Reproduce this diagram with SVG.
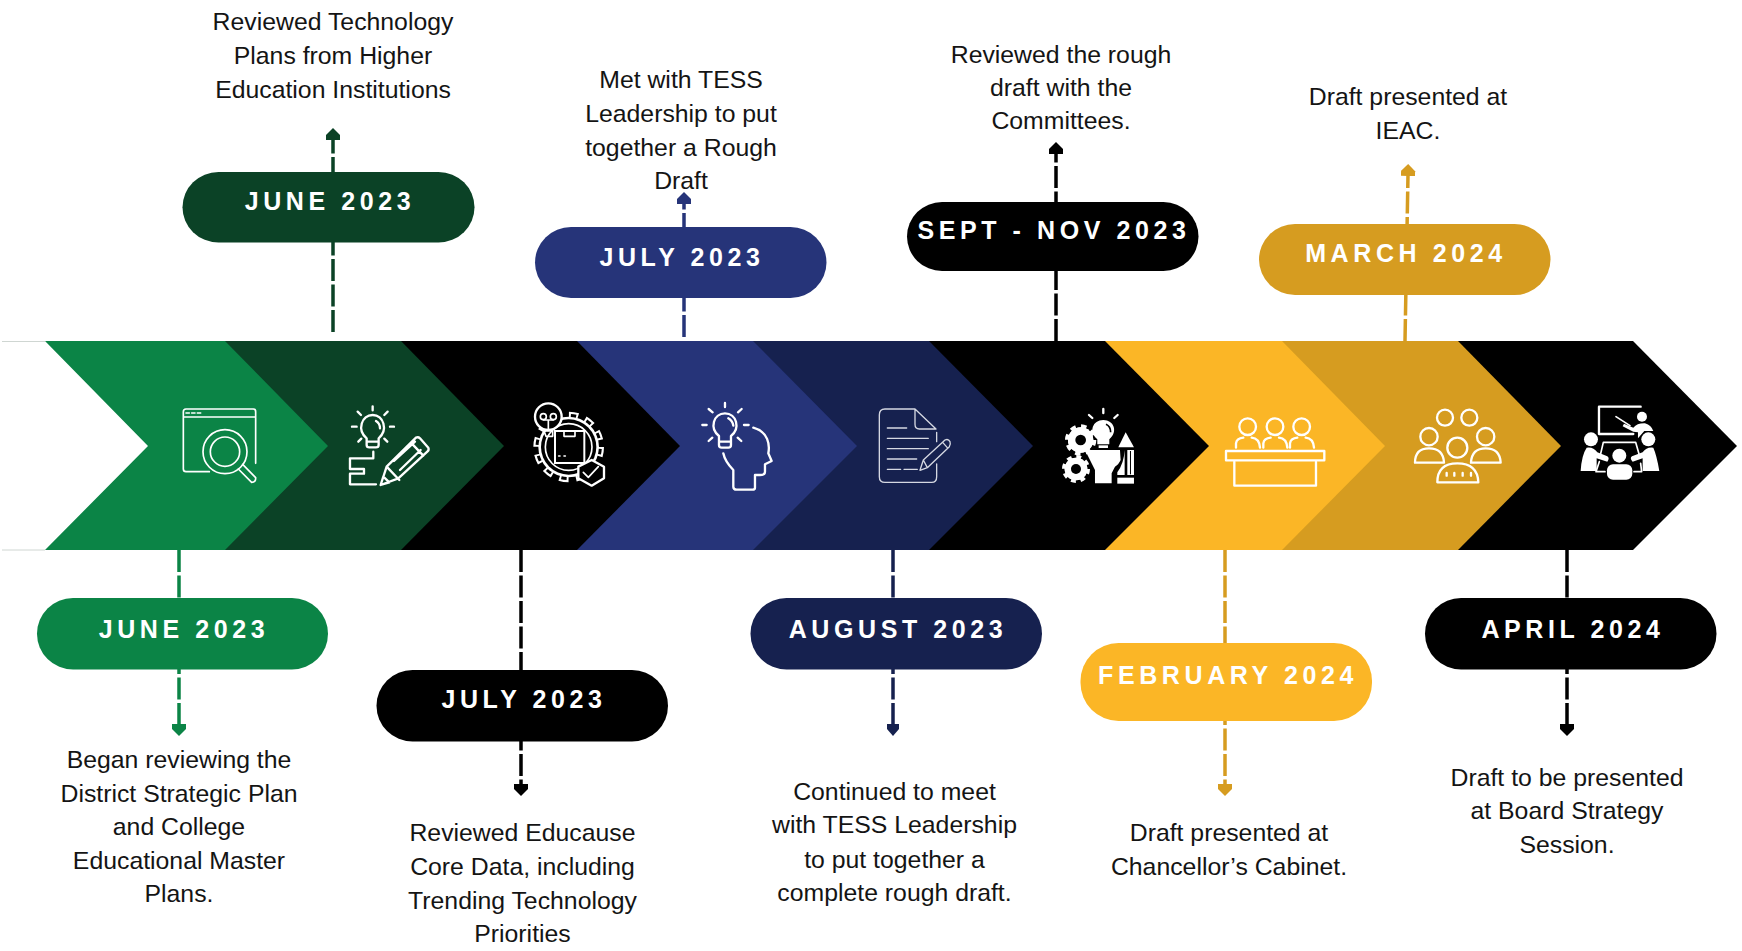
<svg xmlns="http://www.w3.org/2000/svg" width="1742" height="951" viewBox="0 0 1742 951">
<style>
.b{font:24.8px "Liberation Sans",Arial,sans-serif;fill:#141414;text-anchor:middle}
.p{font:bold 25px "Liberation Sans",Arial,sans-serif;fill:#fff;text-anchor:middle;letter-spacing:4.6px}
.c{fill:none;stroke-width:3.5;stroke-dasharray:22 3.5}
.i{fill:none;stroke:#fff;stroke-width:7;stroke-linecap:round;stroke-linejoin:round}
.t{fill:none;stroke:#fff;stroke-width:5;stroke-linecap:round;stroke-linejoin:round}
.d{fill:none;stroke:#d5d8e2;stroke-width:4;stroke-linecap:round;stroke-linejoin:round}
.s{fill:#fff;stroke:none}
.k{fill:#000;stroke:none}
.g1{fill:#0b8446}.g2{fill:#0b4226}.u1{fill:#263479}.u2{fill:#16214f}.y1{fill:#fbb626}.y2{fill:#d69c20}.n{fill:#000}
</style>
<defs>
<marker id="a-g1" markerUnits="userSpaceOnUse" markerWidth="14" markerHeight="16" refX="1" refY="8" orient="auto"><path d="M0 1L5 1L12 8L5 15L0 15Z" fill="#0b8446"/></marker>
<marker id="a-g2" markerUnits="userSpaceOnUse" markerWidth="14" markerHeight="16" refX="1" refY="8" orient="auto"><path d="M0 1L5 1L12 8L5 15L0 15Z" fill="#0b4226"/></marker>
<marker id="a-u1" markerUnits="userSpaceOnUse" markerWidth="14" markerHeight="16" refX="1" refY="8" orient="auto"><path d="M0 1L5 1L12 8L5 15L0 15Z" fill="#263479"/></marker>
<marker id="a-u2" markerUnits="userSpaceOnUse" markerWidth="14" markerHeight="16" refX="1" refY="8" orient="auto"><path d="M0 2L5 2L12 8L5 14L0 14Z" fill="#16214f"/></marker>
<marker id="a-y2" markerUnits="userSpaceOnUse" markerWidth="14" markerHeight="16" refX="1" refY="8" orient="auto"><path d="M0 1L5 1L12 8L5 15L0 15Z" fill="#d69c20"/></marker>
<marker id="a-n" markerUnits="userSpaceOnUse" markerWidth="14" markerHeight="16" refX="1" refY="8" orient="auto"><path d="M0 1L5 1L12 8L5 15L0 15Z" fill="#000"/></marker>
</defs>
<rect width="1742" height="951" fill="#fff"/>
<g id="connectors">
<path class="c" stroke="#0b8446" marker-end="url(#a-g1)" d="M179 550V725"/>
<path class="c" stroke="#0b4226" marker-end="url(#a-g2)" d="M333 332V139"/>
<path class="c" stroke="#000" marker-end="url(#a-n)" d="M521 550V785"/>
<path class="c" stroke="#263479" marker-end="url(#a-u1)" d="M684 337V203"/>
<path class="c" stroke="#16214f" marker-end="url(#a-u2)" d="M893 550V725"/>
<path class="c" stroke="#000" marker-end="url(#a-n)" d="M1056 341V153"/>
<path class="c" stroke="#d69c20" marker-end="url(#a-y2)" d="M1405 341L1408 175"/>
<path class="c" stroke="#d69c20" marker-end="url(#a-y2)" d="M1225 550V785"/>
<path class="c" stroke="#000" marker-end="url(#a-n)" d="M1567 550V725"/>
</g>
<path id="ribbon-edge" d="M2 341.500H45M2 550H45" stroke="#cfd6d2" stroke-width="1" fill="none"/>

<g id="node-apr-2024">
<polygon class="n" points="1458,341 1633,341 1737,446 1633,550 1458,550"/>
<g transform="translate(1400,395) scale(.3333)">
<path class="i" d="M722 35H597V117H700"/>
<path class="t" d="M648 65L690 92"/>
<circle class="s" cx="726" cy="65" r="15"/>
<path class="s" d="M672 86L700 98Q712 84 735 85Q755 92 760 108H733L714 130V112L700 110L668 94Z"/>
<circle class="s" cx="573" cy="133" r="21"/>
<path class="s" d="M560 158Q545 180 542 228H590V190L622 200Q630 190 622 184L592 172Q580 155 560 158Z"/>
<circle class="s" cx="745" cy="133" r="21"/>
<path class="s" d="M760 158Q770 180 778 228H728V190L698 200Q688 190 696 184L728 172Q740 155 760 158Z"/>
<circle class="s" cx="658" cy="182" r="21"/>
<rect class="s" x="621" y="208" width="76" height="46" rx="18"/>
<path class="t" d="M600 185L610 142H707L718 180M598 200L588 230H615M722 205L725 230H702"/>
</g>
<rect class="n" x="1425" y="598" width="291.500" height="71.500" rx="36"/>
<text class="p" x="1573" y="637.500">APRIL 2024</text>
<text class="b" x="1567" y="785.500">Draft to be presented</text>
<text class="b" x="1567" y="819">at Board Strategy</text>
<text class="b" x="1567" y="853">Session.</text>
</g>

<g id="node-mar-2024">
<polygon class="y2" points="1282,341 1458,341 1561,446 1458,550 1282,550"/>
<g transform="translate(1400,395) scale(.3333)" class="i">
<circle cx="135" cy="68" r="24"/><circle cx="208" cy="68" r="24"/><circle cx="87" cy="125" r="26"/><circle cx="257" cy="125" r="26"/><circle cx="172" cy="158" r="30"/>
<path d="M45 203Q45 160 87 160Q130 160 132 203ZM213 203Q215 160 257 160Q300 160 302 203ZM112 262Q112 205 172 205Q233 205 235 262ZM140 234V242M163 234V242M188 234V242M213 234V242"/>
</g>
<rect class="y2" x="1259" y="224" width="291.500" height="71" rx="36"/>
<text class="p" x="1406" y="262">MARCH 2024</text>
<text class="b" x="1408" y="104.500">Draft presented at</text>
<text class="b" x="1408" y="138.500">IEAC.</text>
</g>

<g id="node-feb-2024">
<polygon class="y1" points="1105,341 1282,341 1385,446 1282,550 1105,550"/>
<g transform="translate(1220,395) scale(.3333)" class="i">
<circle cx="83" cy="95" r="25"/><circle cx="165" cy="95" r="25"/><circle cx="245" cy="95" r="25"/>
<path d="M48 158V145Q50 130 70 128M95 128Q118 130 120 158M130 158V145Q132 130 152 128M177 128Q200 130 202 158M210 158V145Q212 130 232 128M257 128Q280 130 282 158"/>
<rect x="18" y="168" width="295" height="28"/>
<path d="M43 200V272H288V200"/>
</g>
<rect class="y1" x="1080.500" y="643" width="291.500" height="78" rx="38"/>
<text class="p" x="1228" y="684">FEBRUARY 2024</text>
<text class="b" x="1229" y="841">Draft presented at</text>
<text class="b" x="1229" y="875">Chancellor’s Cabinet.</text>
</g>

<g id="node-sept-nov-2023">
<polygon class="n" points="929,341 1105,341 1209,446 1105,550 929,550"/>
<g transform="translate(870,395) scale(.3333)">
<circle cx="632" cy="135" r="38" fill="#fff" stroke="#fff" stroke-width="18" stroke-dasharray="15 14.850"/>
<circle class="s" cx="632" cy="135" r="38"/><circle class="k" cx="632" cy="135" r="16"/>
<circle cx="618" cy="222" r="34" fill="#fff" stroke="#fff" stroke-width="16" stroke-dasharray="13.500 13.200"/>
<circle class="s" cx="618" cy="222" r="34"/><circle class="k" cx="618" cy="222" r="15"/>
<path class="s" d="M645 165H750L752 195Q745 210 735 215L725 235V265H675V225Q665 205 645 165Z" stroke="#000"/>
<path class="s" d="M682 133C655 110 668 75 700 75C732 75 745 110 718 133V148H682Z"/>
<rect class="s" x="686" y="151" width="28" height="8"/>
<path d="M708 88Q722 94 722 112" fill="none" stroke="#000" stroke-width="5"/>
<path class="i" d="M700 42V54M657 60L667 69M743 60L733 69"/>
<path class="s" d="M767 112L792 157H745Z"/>
<rect class="s" x="772" y="165" width="20" height="75"/>
<path class="s" d="M764 165V240H742V232Q762 205 764 165Z"/>
<rect class="k" x="780" y="168" width="3" height="70"/>
<rect class="s" x="742" y="248" width="50" height="18"/>
</g>
<rect class="n" x="907" y="202" width="291.500" height="69" rx="35"/>
<text class="p" x="1054" y="239">SEPT - NOV 2023</text>
<text class="b" x="1061" y="62.500">Reviewed the rough</text>
<text class="b" x="1061" y="95.500">draft with the</text>
<text class="b" x="1061" y="128.500">Committees.</text>
</g>

<g id="node-aug-2023">
<polygon class="u2" points="753,341 929,341 1033,446 929,550 753,550"/>
<g transform="translate(870,395) scale(.3333)" class="d">
<path d="M135 42H45Q28 42 28 60V245Q28 262 45 262H185Q200 262 200 245V207M200 112V140M135 42L198 102H148Q135 102 135 88ZM52 99H110M52 130H175M52 161H175M52 192H140M52 223H92M102 223H142"/>
<path d="M150 226L160 195L225 135Q235 130 240 140Q243 148 238 155L172 218ZM160 195L172 218M218 142L232 158"/>
</g>
<rect class="u2" x="750.500" y="598" width="291.500" height="71.500" rx="36"/>
<text class="p" x="898" y="637.500">AUGUST 2023</text>
<text class="b" x="894.500" y="799.500">Continued to meet</text>
<text class="b" x="894.500" y="833">with TESS Leadership</text>
<text class="b" x="894.500" y="867.500">to put together a</text>
<text class="b" x="894.500" y="901">complete rough draft.</text>
</g>

<g id="node-jul-2023-top">
<polygon class="u1" points="577,341 753,341 857,446 753,550 577,550"/>
<g transform="translate(520,395) scale(.3333)" class="i">
<path d="M597 123C568 100 580 55 615 55C650 55 662 100 633 123V150Q633 158 625 158H605Q597 158 597 150ZM597 140H633M625 70Q638 78 640 92M615 24V36M566 42L578 52M665 42L654 52M547 90H560M672 90H686M566 138L577 128M664 138L653 128"/>
<path d="M700 98C745 110 750 150 745 175L755 198L735 208V230Q735 240 720 240H705V278Q705 284 698 284H650Q640 284 640 275V225Q615 200 610 175"/>
</g>
<rect class="u1" x="535" y="227" width="291.500" height="71" rx="36"/>
<text class="p" x="682" y="265.500">JULY 2023</text>
<text class="b" x="681" y="88">Met with TESS</text>
<text class="b" x="681" y="121.500">Leadership to put</text>
<text class="b" x="681" y="155.500">together a Rough</text>
<text class="b" x="681" y="189">Draft</text>
</g>

<g id="node-jul-2023-bottom">
<polygon class="n" points="401,341 577,341 680,446 577,550 401,550"/>
<g transform="translate(520,395) scale(.3333)">
<circle cx="146" cy="156" r="96" fill="none" stroke="#fff" stroke-width="20" stroke-dasharray="28 22.270"/>
<circle class="s" cx="146" cy="156" r="91"/>
<circle cx="146" cy="156" r="95" fill="none" stroke="#000" stroke-width="9" stroke-dasharray="16 33.740" stroke-dashoffset="-6"/>
<circle class="k" cx="146" cy="156" r="83"/>
<circle class="t" cx="146" cy="156" r="70" stroke-width="6"/>
<rect x="105" y="108" width="88" height="96" fill="#000" stroke="#fff" stroke-width="6"/>
<path class="t" d="M132 108V124H165V108M116 183H120M132 183H136"/>
<circle cx="85" cy="65" r="40" fill="#000" stroke="#fff" stroke-width="7"/>
<path class="t" d="M85 105V75M70 75H100"/>
<circle class="t" cx="70" cy="65" r="9"/><circle class="t" cx="100" cy="65" r="9"/>
<path class="t" d="M72 108H98V124H78Z" fill="#000"/>
<polygon points="215,195 252,215 252,250 215,272 175,250 175,215" fill="#000" stroke="#fff" stroke-width="7" stroke-linejoin="round"/>
<path class="t" d="M190 232L205 247L235 215" stroke-width="7"/>
</g>
<rect class="n" x="376.500" y="670" width="291.500" height="71.500" rx="36"/>
<text class="p" x="524" y="708">JULY 2023</text>
<text class="b" x="522.500" y="841">Reviewed Educause</text>
<text class="b" x="522.500" y="875">Core Data, including</text>
<text class="b" x="522.500" y="908.500">Trending Technology</text>
<text class="b" x="522.500" y="941.500">Priorities</text>
</g>

<g id="node-jun-2023-top">
<polygon class="g2" points="225,341 401,341 504,446 401,550 225,550"/>
<g transform="translate(170,395) scale(.3333)" class="i">
<path d="M590 130C560 105 575 60 608 60C641 60 655 105 626 130V150Q626 157 618 157H598Q590 157 590 150ZM590 140H626M618 78Q630 85 630 100M608 34V46M563 50L573 60M653 50L643 60M546 95H560M660 95H672M565 140L574 131M652 140L643 131"/>
<path d="M610 170V190H540V222H582V236H540V268H618"/>
<path d="M632 270L650 215L738 128Q745 125 750 130L775 158Q778 165 772 170L685 250ZM650 215L688 255M725 145L760 182M672 198L735 140M690 225L752 165M632 270L640 245L658 262Z"/>
</g>
<rect class="g2" x="182.500" y="172" width="292" height="70.500" rx="36"/>
<text class="p" x="330" y="210">JUNE 2023</text>
<text class="b" x="333" y="30">Reviewed Technology</text>
<text class="b" x="333" y="64">Plans from Higher</text>
<text class="b" x="333" y="97.500">Education Institutions</text>
</g>

<g id="node-jun-2023-bottom">
<polygon class="g1" points="45,341 225,341 328,446 225,550 45,550 148,446"/>
<g transform="translate(170,395) scale(.3333)" class="t">
<path d="M118 230H48Q40 230 40 222V50Q40 42 48 42H250Q257 42 257 50V205M40 66H257M48 54H58M65 54H75M82 54H92"/>
<circle cx="165" cy="170" r="66"/><circle cx="165" cy="170" r="44"/>
<path d="M218 208L257 248Q258 262 245 262L205 222"/>
</g>
<rect class="g1" x="37" y="598" width="291" height="71.500" rx="36"/>
<text class="p" x="184" y="637.500">JUNE 2023</text>
<text class="b" x="179" y="768">Began reviewing the</text>
<text class="b" x="179" y="801.500">District Strategic Plan</text>
<text class="b" x="179" y="835">and College</text>
<text class="b" x="179" y="868.500">Educational Master</text>
<text class="b" x="179" y="902">Plans.</text>
</g>
</svg>
